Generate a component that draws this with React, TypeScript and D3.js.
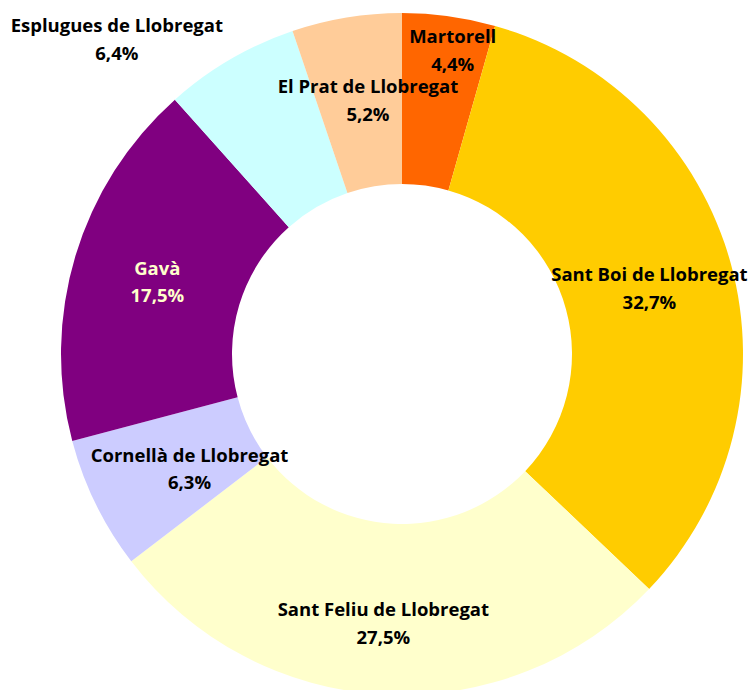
import React from "react";
import * as d3 from "d3";

const categories = [
  "Martorell",
  "Sant Boi de Llobregat",
  "Sant Feliu de Llobregat",
  "Cornellà de Llobregat",
  "Gavà",
  "Esplugues de Llobregat",
  "El Prat de Llobregat",
];
const values = [4.4, 32.7, 27.5, 6.3, 17.5, 6.4, 5.2];
const valueLabels = ["4,4%", "32,7%", "27,5%", "6,3%", "17,5%", "6,4%", "5,2%"];
const colors = ["#FF6600", "#FFCC00", "#FFFFCC", "#CCCCFF", "#800080", "#CCFFFF", "#FFCC99"];
const labelColors = ["#000", "#000", "#000", "#000", "#FFFFCC", "#000", "#000"];
// label nudges relative to arc centroid (dx, dy)
const labelOffsets: [number, number][] = [
  [15.5, -52],
  [1, 0],
  [-5, 12.5],
  [17, 1],
  [0, 0],
  [-156.5, -95.4],
  [7.5, -3],
];

const W = 751;
const H = 690;
const cx = 402;
const cy = 354;
const outerR = 341;
const innerR = 170;

export default function App() {
  const pie = d3
    .pie<number>()
    .sort(null)
    .value((d) => d)(values);
  const arc = d3.arc<d3.PieArcDatum<number>>().innerRadius(innerR).outerRadius(outerR);

  return (
    <svg
      width={W}
      height={H}
      viewBox={`0 0 ${W} ${H}`}
      style={{ position: "absolute", left: 0, top: 0, background: "#fff" }}
    >
      <g transform={`translate(${cx},${cy})`}>
        {pie.map((p, i) => (
          <path key={i} d={arc(p) || ""} fill={colors[i]} />
        ))}
        {pie.map((p, i) => {
          const [x, y] = arc.centroid(p);
          const lx = x + labelOffsets[i][0];
          const ly = y + labelOffsets[i][1];
          return (
            <text
              key={"t" + i}
              x={lx}
              y={ly}
              textAnchor="middle"
              fill={labelColors[i]}
              style={{ fontFamily: "'Open Sans', 'Noto Sans', sans-serif", fontWeight: 700, fontSize: 18.5 }}
            >
              <tspan x={lx} y={ly - 5.6}>
                {categories[i]}
              </tspan>
              <tspan x={lx} y={ly + 22}>
                {valueLabels[i]}
              </tspan>
            </text>
          );
        })}
      </g>
    </svg>
  );
}
